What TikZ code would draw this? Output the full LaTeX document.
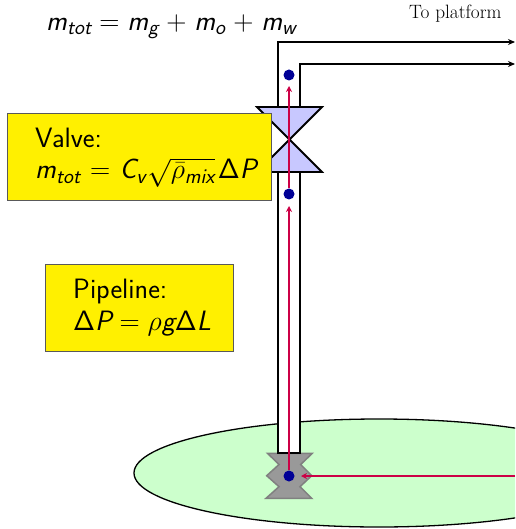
\RequirePackage{fix-cm}
\documentclass[tikz,border=0pt]{standalone}
\usetikzlibrary{arrows.meta}
\definecolor{boxyellow}{RGB}{255,240,0}
\definecolor{lilac}{RGB}{200,200,255}
\definecolor{palegreen}{RGB}{204,255,204}
\definecolor{crim}{RGB}{204,0,70}
\definecolor{dotblue}{RGB}{0,0,150}
\newcommand{\sv}[1]{\mbox{\sffamily\itshape #1}}
\newcommand{\ssv}[1]{\mbox{\fontsize{21}{24}\selectfont\sffamily\itshape #1}}
\newcommand{\sDelta}{\mbox{\fontencoding{OT1}\fontfamily{cmss}\fontseries{m}\fontshape{n}\selectfont\char1}}
\tikzset{
  infobox/.style={draw=black!65,fill=boxyellow,line width=0.7pt,anchor=north west,inner sep=0pt},
  boxtext/.style={anchor=base west,inner sep=0pt,font=\sffamily\fontsize{28}{34}\selectfont},
  wall/.style={draw=black,line width=1.8pt,line cap=butt},
  outpipe/.style={wall,-{Stealth[length=7pt,width=6pt]}},
  flow/.style={draw=crim,line width=1.5pt,-{Stealth[length=6pt,width=6pt]}},
  probe/.style={circle,fill=dotblue,minimum size=11pt,inner sep=0pt},
}
\begin{document}
\begin{tikzpicture}[x=1pt,y=-1pt]
\useasboundingbox (0,0) rectangle (515,529);
\begin{scope}
\clip (0,0) rectangle (515,529);
\fill[palegreen,draw=black,line width=1.3pt] (379,473) ellipse [x radius=245,y radius=54];
\end{scope}
% well head
\fill[fill=black!40,draw=black!50,line width=1.5pt,line join=miter]
 (267.5,453.3) -- (312.3,453.3) -- (300.7,464.5) -- (311.7,475.7) -- (300,486.7) -- (311.7,498.3) -- (266,498.3) -- (279,486.7) -- (266.7,475.7) -- (279,464.5) -- cycle;
% pipe
\fill[white] (278,453) rectangle (300,172);
\fill[white] (278,107) rectangle (300,42);
\coordinate (wbl) at (278,453);
\coordinate (wbr) at (300,453);
\coordinate (vbl) at (278,172);
\coordinate (vbr) at (300,172);
\coordinate (vtl) at (278,107);
\coordinate (vtr) at (300,107);
\coordinate (ot) at (515,42);
\coordinate (it) at (515,64);
\draw[wall] (vbl) -- (wbl) -- (wbr) -- (vbr);
\draw[outpipe] (vtl) -- (278,42) -- (ot);
\draw[outpipe] (vtr) -- (300,64) -- (it);
% valve
\draw[fill=lilac,line width=1.8pt,line join=miter] (257,107) -- (322,107) -- (257,172) -- (322,172) -- cycle;
% probes
\node[probe] (p1) at (289,75) {};
\node[probe] (p2) at (289,194) {};
\node[probe] (p3) at (289,476) {};
\coordinate (right) at (515,476);
\coordinate (t1) at (289,86);
\coordinate (t2) at (289,206);
\coordinate (t3) at (301,476);
\draw[flow] (p2) -- (t1);
\draw[flow] (p3) -- (t2);
\draw[flow] (right) -- (t3);
% boxes
\node[infobox,minimum width=264pt,minimum height=87pt] (vbox) at (7,113) {};
\node[boxtext] (vtext1) at (35,148) {Valve:};
\node[boxtext] (vtext2) at (35,179) {$\sv{m}_{\ssv{tot}} \mskip1mu=\mskip1mu \sv{C}_{\ssv{v}}\mskip1mu\sqrt{\bar\rho_{\ssv{mix}}}\mskip2mu\sDelta\sv{P}$};
\node[infobox,minimum width=188pt,minimum height=87pt] (pbox) at (45,264) {};
\node[boxtext] (ptext1) at (73,298) {Pipeline:};
\node[boxtext] (ptext2) at (73,330) {$\sDelta\sv{P} = \rho\sv{g}\sDelta\sv{L}$};
% top labels
\node[boxtext] (mtot) at (46,30.5) {$\sv{m}_{\ssv{tot}} = \sv{m}_{\ssv{g}} \mskip1mu+\mskip1mu \sv{m}_{\ssv{o}} \mskip1mu+\mskip1mu \sv{m}_{\ssv{w}}$};
\node[anchor=base west,inner sep=0pt,font=\rmfamily\fontsize{19.3}{22}\selectfont] (plat) at (409,19) {To platform};
\end{tikzpicture}
\end{document}
